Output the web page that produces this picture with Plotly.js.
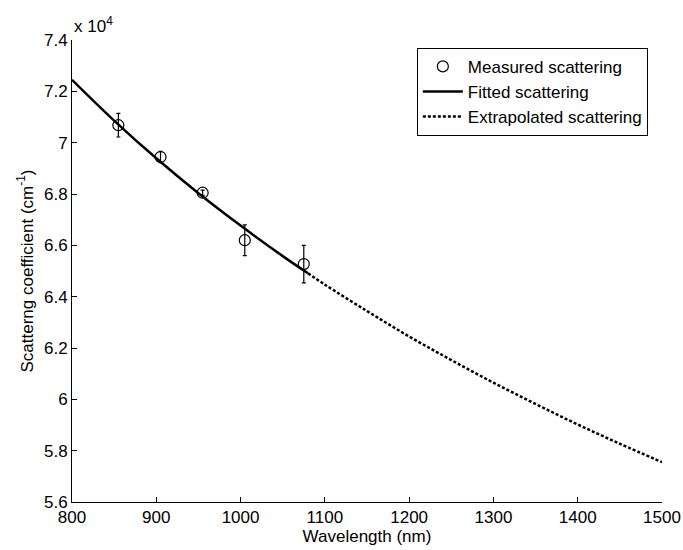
<!DOCTYPE html>
<html>
<head>
<meta charset="utf-8">
<script src="https://cdn.plot.ly/plotly-3.0.1.min.js"></script>
<style>html,body{margin:0;padding:0;background:#fff;}#chart{width:683px;height:550px;}</style>
</head>
<body>
<div id="chart"></div>
<script>
// Values in units of 10^4 cm^-1
var measuredWavelength = [855, 905, 955, 1005, 1075];
var measuredScattering = [7.068, 6.944, 6.805, 6.620, 6.527];
var measuredError = [0.046, 0.022, 0.010, 0.060, 0.073];

var fittedWavelength = [800, 850, 900, 950, 1000, 1050, 1080];
var fittedScattering = [7.245, 7.086, 6.939, 6.803, 6.677, 6.558, 6.491];

var extrapWavelength = [1080, 1100, 1150, 1200, 1250, 1300, 1350, 1400, 1450, 1500];
var extrapScattering = [6.491, 6.447, 6.344, 6.245, 6.153, 6.065, 5.982, 5.902, 5.827, 5.755];

var xTicks = [800, 900, 1000, 1100, 1200, 1300, 1400, 1500];
var yTicks = [5.6, 5.8, 6, 6.2, 6.4, 6.6, 6.8, 7, 7.2, 7.4];

var font = "Liberation Sans, Arial, sans-serif";

var traces = [
  {
    x: fittedWavelength, y: fittedScattering, mode: "lines", type: "scatter",
    name: "Fitted scattering", legendrank: 2,
    line: {color: "#000", width: 2.5, shape: "spline"}
  },
  {
    x: extrapWavelength, y: extrapScattering, mode: "lines", type: "scatter",
    name: "Extrapolated scattering", legendrank: 3,
    line: {color: "#000", width: 2.5, dash: "3px,2px", shape: "spline"}
  },
  {
    x: measuredWavelength, y: measuredScattering, mode: "markers", type: "scatter",
    name: "Measured scattering", legendrank: 1,
    marker: {symbol: "circle-open", size: 11, color: "#000", line: {width: 1.2, color: "#000"}},
    error_y: {type: "data", array: measuredError, visible: true, color: "#000", thickness: 1.2, width: 2}
  }
];

var layout = {
  width: 683, height: 550,
  margin: {l: 72, r: 21, t: 40, b: 48},
  paper_bgcolor: "#fff", plot_bgcolor: "#fff",
  font: {family: font, color: "#000", size: 14},
  showlegend: true,
  legend: {
    x: 0.976, y: 0.983, xanchor: "right", yanchor: "top",
    bordercolor: "#000", borderwidth: 1, bgcolor: "#fff",
    font: {family: font, size: 17, color: "#000"},
    itemwidth: 40,
    tracegroupgap: 0
  },
  xaxis: {
    range: [800, 1500], tickvals: xTicks, ticktext: xTicks.map(String),
    showline: true, linecolor: "#000", linewidth: 1,
    ticks: "inside", ticklen: 5, tickcolor: "#000",
    showgrid: false, zeroline: false,
    tickfont: {family: font, size: 17, color: "#000"},
    title: {text: "Wavelength (nm)", font: {family: font, size: 17, color: "#000"}, standoff: 3}
  },
  yaxis: {
    range: [5.6, 7.4], tickvals: yTicks, ticktext: yTicks.map(String),
    showline: true, linecolor: "#000", linewidth: 1,
    ticks: "inside", ticklen: 5, tickcolor: "#000",
    showgrid: false, zeroline: false,
    tickfont: {family: font, size: 17, color: "#000"},
    title: {text: "Scatterng coefficient (cm<sup>-1</sup>)", font: {family: font, size: 17, color: "#000"}, standoff: 6}
  },
  annotations: [
    {xref: "paper", yref: "paper", x: 0, y: 1, xanchor: "left", yanchor: "bottom",
     xshift: 0, yshift: 2, showarrow: false,
     text: "x 10<sup>4</sup>", font: {family: font, size: 17, color: "#000"}}
  ]
};

Plotly.newPlot("chart", traces, layout, {displayModeBar: false, staticPlot: true});
</script>
</body>
</html>
